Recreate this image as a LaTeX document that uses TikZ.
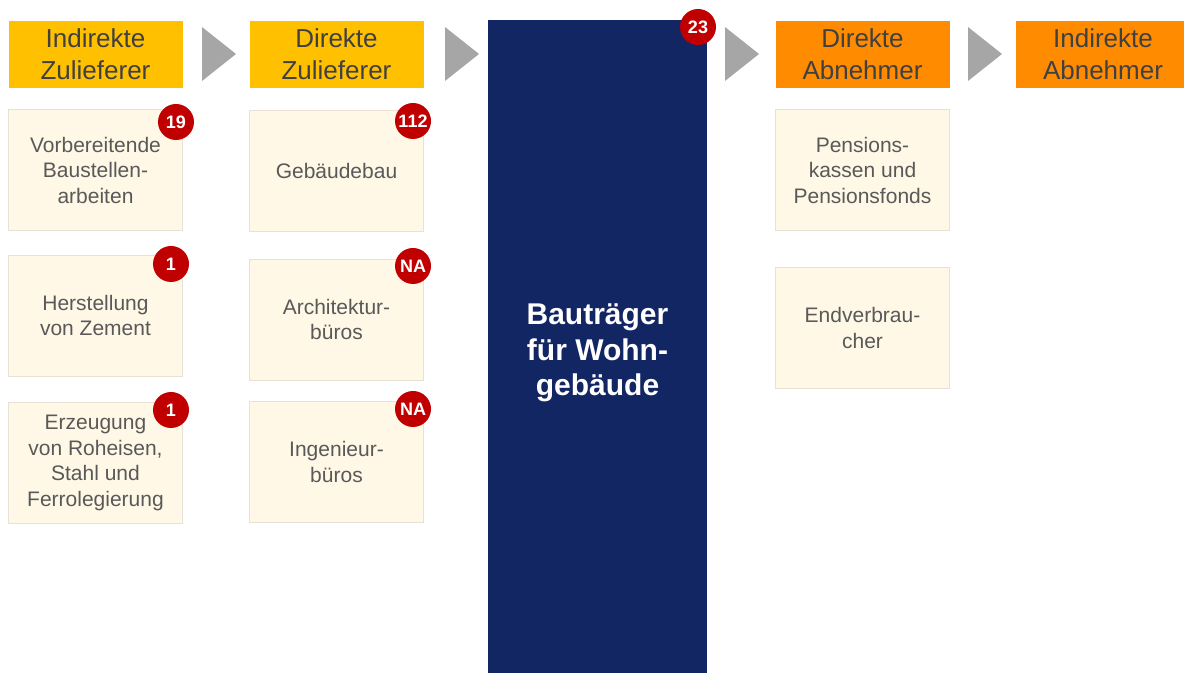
\documentclass[tikz,border=0pt]{standalone}
\usepackage{fontspec}
\setmainfont{Liberation Sans}
\usepackage{xcolor}
\usepackage{tikz}
\definecolor{hdryellow}{RGB}{255,192,0}
\definecolor{hdrorange}{RGB}{255,140,0}
\definecolor{cream}{RGB}{255,248,230}
\definecolor{creamline}{RGB}{232,226,214}
\definecolor{navy}{RGB}{19,38,100}
\definecolor{badgered}{RGB}{192,0,0}
\definecolor{chevgray}{RGB}{166,166,166}
\definecolor{hdrtxt}{RGB}{64,64,64}
\definecolor{celltxt}{RGB}{89,89,89}
\newcommand{\hdrsize}{\fontsize{13}{16}\selectfont}
\newcommand{\cellsize}{\fontsize{10.5}{12.75}\selectfont}
\newcommand{\coresize}{\fontsize{15}{17.75}\selectfont}
\newcommand{\badgesize}{\fontsize{9}{10}\selectfont}

\begin{document}
\begin{tikzpicture}[x=0.5pt,y=-0.5pt,
  hdr/.style={minimum width=87pt,minimum height=33.5pt,inner sep=0pt,align=center,
    text=hdrtxt,font=\hdrsize},
  cell/.style={draw=creamline,line width=0.4pt,fill=cream,minimum width=87pt,
    minimum height=60.5pt,inner sep=0pt,align=center,text=celltxt,font=\cellsize},
  badge/.style={circle,fill=badgered,text=white,minimum size=18pt,inner sep=0pt,
    font=\badgesize\bfseries},
  chev/.style={fill=chevgray}]
\clip (0,0) rectangle (1184,673);
\node[hdr,fill=hdryellow] (hIZ) at (95.5,54.5) {Indirekte\\Zulieferer};
\node[hdr,fill=hdryellow] (hDZ) at (336.5,54.5) {Direkte\\Zulieferer};
\node[hdr,fill=hdrorange] (hDA) at (862.5,54.5) {Direkte\\Abnehmer};
\node[hdr,fill=hdrorange] (hIA) at (1103,54.5) {Indirekte\\Abnehmer};
\foreach \x in {202,445,725,968}
  \fill[chev] (\x,27) -- (\x+34,54) -- (\x,81) -- cycle;
\node[fill=navy,minimum width=109.5pt,minimum height=333pt,inner sep=0pt,align=center,
  text=white,font=\coresize\bfseries] (core) at (597.5,353) {Bauträger\\für Wohn-\\gebäude};
\node[cell] (vorb) at (95.5,170) {Vorbereitende\\Baustellen-\\arbeiten};
\node[cell] (zem) at (95.5,315.5) {Herstellung\\von Zement};
\node[cell] (stahl) at (95.5,463) {Erzeugung\\von Roheisen,\\Stahl und\\Ferrolegierung};
\node[cell] (geb) at (336.5,170.5) {Gebäudebau};
\node[cell] (arch) at (336.5,319.5) {Architektur-\\büros};
\node[cell] (ing) at (336.5,462) {Ingenieur-\\büros};
\node[cell] (pens) at (862.5,170) {Pensions-\\kassen und\\Pensionsfonds};
\node[cell] (endv) at (862.5,328) {Endverbrau-\\cher};
\node[badge] (bvorb) at (176,122) {19};
\node[badge] (bzem) at (171,264) {1};
\node[badge] (bstahl) at (171,410) {1};
\node[badge] (bgeb) at (413,121) {112};
\node[badge] (barch) at (413,266) {NA};
\node[badge] (bing) at (413,409) {NA};
\node[badge] (bcore) at (698,27) {23};
\end{tikzpicture}
\end{document}
